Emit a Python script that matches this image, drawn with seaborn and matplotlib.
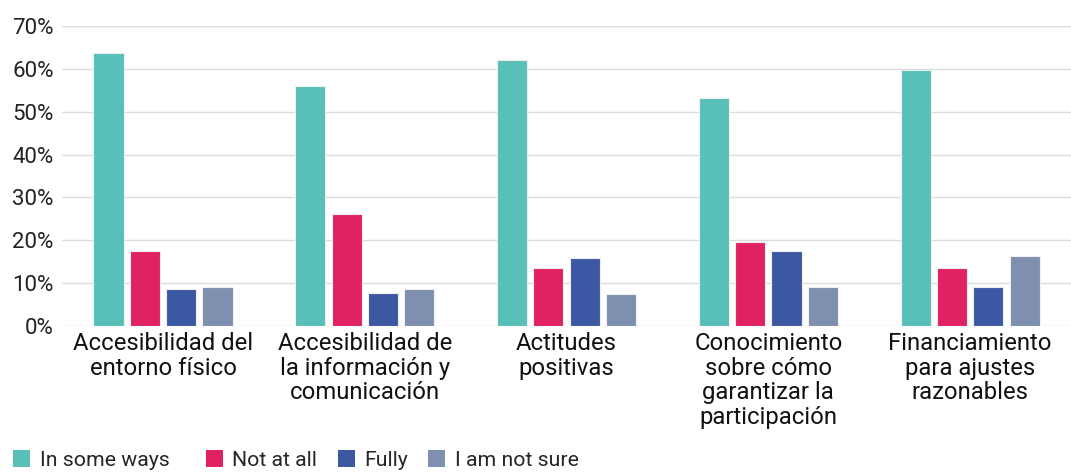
import pandas as pd
import numpy as np
import matplotlib.pyplot as plt
import seaborn as sns
from matplotlib.patches import Patch
from matplotlib.ticker import PercentFormatter

sns.set_theme(style="white")
plt.rcParams['font.family'] = ['Roboto', 'DejaVu Sans']

############### Datos ####################
categories = ["Accesibilidad del\nentorno físico",
              "Accesibilidad de\nla información y\ncomunicación",
              "Actitudes\npositivas",
              "Conocimiento\nsobre cómo\ngarantizar la\nparticipación",
              "Financiamiento\npara ajustes\nrazonables"]
series = ["In some ways", "Not at all", "Fully", "I am not sure"]
in_some_ways = [63.7, 56.0, 62.0, 53.3, 59.8]
not_at_all   = [17.5, 26.1, 13.5, 19.6, 13.5]
fully        = [8.7, 7.7, 15.8, 17.5, 9.2]
not_sure     = [9.2, 8.6, 7.6, 9.2, 16.3]
colors = ["#58C0B9", "#E02262", "#3D58A3", "#7F8FB0"]

df = pd.DataFrame({
    "cat": categories * 4,
    "serie": np.repeat(series, len(categories)),
    "valor": in_some_ways + not_at_all + fully + not_sure,
})

############### Gráfico ####################
fig = plt.figure(figsize=(10.71, 4.72), dpi=100)
ax = fig.add_axes([0.058, 0.309, 0.942, 0.636])

sns.barplot(data=df, x="cat", y="valor", hue="serie", hue_order=series,
            palette=colors, saturation=1, width=0.72, gap=0.17, ax=ax,
            edgecolor="#eeeeee", linewidth=0.8, legend=False)

ax.set_ylim(0, 70)
ax.set_xlim(-0.5, 4.5)
ax.set_yticks(range(0, 71, 10))
ax.yaxis.set_major_formatter(PercentFormatter(decimals=0))
ax.grid(axis="y", color="#dcdcdc", linewidth=1)
ax.set_axisbelow(True)
for s in ax.spines.values():
    s.set_visible(False)
ax.set_xlabel("")
ax.set_ylabel("")
ax.tick_params(axis="y", labelsize=16, length=0, pad=6, colors="#222222")
ax.tick_params(axis="x", labelsize=17.2, length=0, pad=4, colors="#111111")
for t in ax.get_xticklabels():
    t.set_linespacing(1.1)

# primera entrada con más espacio, como en el original
legend_labels = [series[0] + "   "] + series[1:]
handles = [Patch(facecolor=c, edgecolor="none") for c in colors]
fig.legend(handles, legend_labels, loc="lower left", bbox_to_anchor=(0.01, 0.0),
           ncol=4, frameon=False, fontsize=15.3, handlelength=0.8,
           handleheight=0.8, handletextpad=0.47, columnspacing=0.95,
           borderpad=0.1, borderaxespad=0)

plt.savefig("out.png", dpi=100)
